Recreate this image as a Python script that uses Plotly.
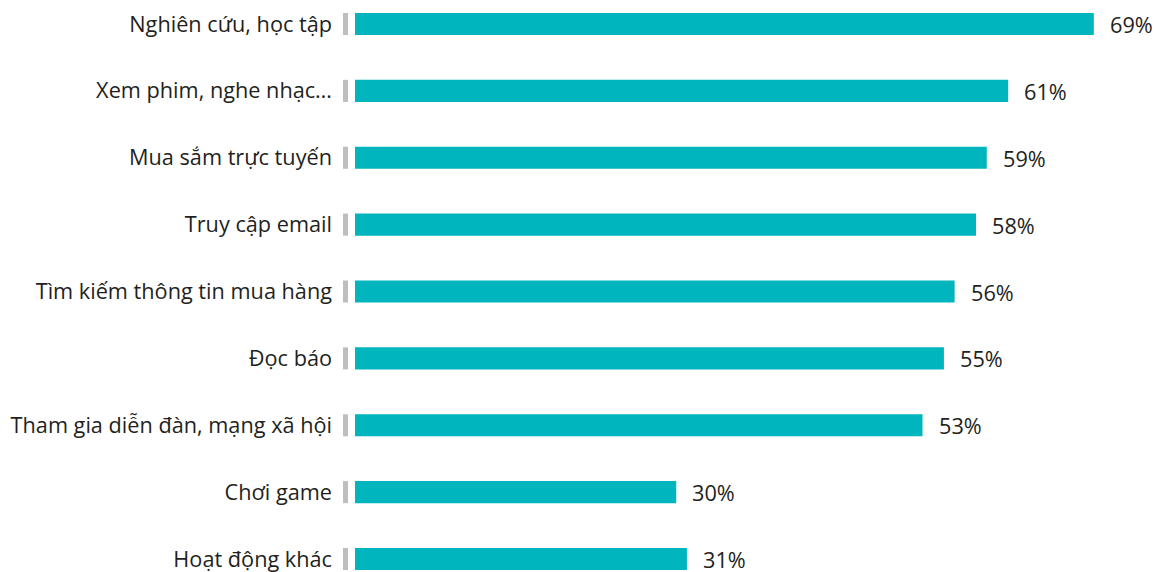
import plotly.graph_objects as go

categories = [
    "Nghiên cứu, học tập",
    "Xem phim, nghe nhạc…",
    "Mua sắm trực tuyến",
    "Truy cập email",
    "Tìm kiếm thông tin mua hàng",
    "Đọc báo",
    "Tham gia diễn đàn, mạng xã hội",
    "Chơi game",
    "Hoạt động khác",
]
values = [69, 61, 59, 58, 56, 55, 53, 30, 31]
labels = [f"{v}%" for v in values]

TEAL = "#00b5be"
GRAY = "#bcbec0"
TEXT = "#231f20"
FONT = "Open Sans"
FS = 21.7

fig = go.Figure()
# gray marker before each bar
fig.add_trace(go.Bar(
    y=categories, x=[0.47] * len(categories), base=[-1.12] * len(categories),
    orientation="h", marker=dict(color=GRAY, line=dict(width=0)),
    width=0.33, hoverinfo="skip", showlegend=False,
))
fig.add_trace(go.Bar(
    y=categories, x=values, orientation="h",
    marker=dict(color=TEAL, line=dict(width=0)),
    width=0.33, showlegend=False,
))
for c, v, t in zip(categories, values, labels):
    fig.add_annotation(x=v, y=c, text=t, xanchor="left", xshift=15, yshift=0,
                       height=24, borderpad=0,
                       showarrow=False, font=dict(family=FONT, size=FS, color=TEXT))

fig.update_layout(
    width=1157, height=572,
    margin=dict(l=340, r=0, t=0, b=0),
    plot_bgcolor="white", paper_bgcolor="white",
    barmode="overlay",
    xaxis=dict(range=[-1.4, 74.9], visible=False),
    yaxis=dict(range=[8.194, -0.359], showgrid=False, zeroline=False,
               showline=False, ticks="", ticklabelstandoff=7,
               tickfont=dict(family=FONT, size=FS, color=TEXT)),
    font=dict(family=FONT),
)
fig.write_html("out.html", config={"displayModeBar": False},
               post_script="document.body.style.margin='0';document.body.style.overflow='hidden';")
